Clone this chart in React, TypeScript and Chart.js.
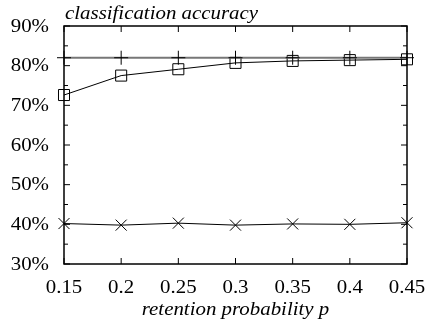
import React, { useEffect, useRef } from "react";
import { Chart, registerables } from "chart.js";

Chart.register(...registerables);

const retentionP = [0.15, 0.2, 0.25, 0.3, 0.35, 0.4, 0.45];
const plusAcc = [82.0, 82.0, 82.0, 82.0, 82.0, 82.0, 82.0];
const squareAcc = [72.6, 77.5, 79.1, 80.7, 81.2, 81.4, 81.6];
const crossAcc = [40.2, 39.8, 40.3, 39.8, 40.1, 40.0, 40.4];

const xTickValues = [0.15, 0.2, 0.25, 0.3, 0.35, 0.4, 0.45];
const xTickLabels = ["0.15", "0.2", "0.25", "0.3", "0.35", "0.4", "0.45"];
const yTickValues = [30, 40, 50, 60, 70, 80, 90];
const yTickLabels = ["30%", "40%", "50%", "60%", "70%", "80%", "90%"];
const yMinorValues = [35, 45, 55, 65, 75, 85];

const chartTitle = "classification accuracy";
const xAxisTitle = "retention probability p";

const FONT = '"Liberation Serif", "Times New Roman", serif';
const SX = 1.16;

function stretchedText(
  ctx: CanvasRenderingContext2D,
  text: string,
  x: number,
  y: number,
  align: "left" | "right" | "center",
  baseline: CanvasTextBaseline,
  font: string
) {
  ctx.save();
  ctx.font = font;
  ctx.textBaseline = baseline;
  ctx.textAlign = "left";
  const w = ctx.measureText(text).width * SX;
  let left = x;
  if (align === "right") left = x - w;
  if (align === "center") left = x - w / 2;
  ctx.translate(left, y);
  ctx.scale(SX, 1);
  ctx.fillStyle = "#000";
  ctx.fillText(text, 0, 0);
  ctx.restore();
}

const framePlugin = {
  id: "gnuplotFrame",
  afterDatasetsDraw(chart: any) {
    const { ctx, chartArea } = chart;
    const { left, right, top, bottom } = chartArea;
    const xs = chart.scales.x;
    const ys = chart.scales.y;
    ctx.save();
    ctx.strokeStyle = "#000";
    ctx.lineWidth = 1.5;
    ctx.strokeRect(left, top, right - left, bottom - top);
    ctx.lineWidth = 1;
    ctx.beginPath();
    const major = 6;
    const minor = 4;
    yTickValues.forEach((v) => {
      const y = ys.getPixelForValue(v);
      ctx.moveTo(left, y);
      ctx.lineTo(left + major, y);
      ctx.moveTo(right, y);
      ctx.lineTo(right - major, y);
    });
    yMinorValues.forEach((v) => {
      const y = ys.getPixelForValue(v);
      ctx.moveTo(left, y);
      ctx.lineTo(left + minor, y);
      ctx.moveTo(right, y);
      ctx.lineTo(right - minor, y);
    });
    xTickValues.forEach((v) => {
      const x = xs.getPixelForValue(v);
      ctx.moveTo(x, bottom);
      ctx.lineTo(x, bottom - major);
      ctx.moveTo(x, top);
      ctx.lineTo(x, top + major);
    });
    ctx.stroke();
    ctx.restore();

    const tickFont = `18px ${FONT}`;
    const italicFont = `italic 18px ${FONT}`;
    yTickValues.forEach((v, i) => {
      stretchedText(ctx, yTickLabels[i], left - 15, ys.getPixelForValue(v) + 1, "right", "middle", tickFont);
    });
    xTickValues.forEach((v, i) => {
      stretchedText(ctx, xTickLabels[i], xs.getPixelForValue(v), 293, "center", "alphabetic", tickFont);
    });
    stretchedText(ctx, chartTitle, left + 1, 19, "left", "alphabetic", italicFont);
    stretchedText(ctx, xAxisTitle, (left + right) / 2, 315, "center", "alphabetic", italicFont);
  },
};

export default function App() {
  const canvasRef = useRef<HTMLCanvasElement | null>(null);

  useEffect(() => {
    document.body.style.margin = "0";
    const canvas = canvasRef.current;
    if (!canvas) return;
    const chart = new Chart(canvas, {
      type: "line",
      data: {
        datasets: [
          {
            label: "plus",
            data: retentionP.map((p, i) => ({ x: p, y: plusAcc[i] })),
            borderColor: "#777",
            borderWidth: 2,
            pointStyle: "cross",
            pointRadius: 7,
            pointBorderColor: "#000",
            pointBorderWidth: 1,
            pointBackgroundColor: "transparent",
            clip: false as any,
          },
          {
            label: "squares",
            data: retentionP.map((p, i) => ({ x: p, y: squareAcc[i] })),
            borderColor: "#000",
            borderWidth: 1,
            pointStyle: "rect",
            pointRadius: 7.8,
            pointBorderColor: "#000",
            pointBorderWidth: 1,
            pointBackgroundColor: "transparent",
            clip: false as any,
          },
          {
            label: "crosses",
            data: retentionP.map((p, i) => ({ x: p, y: crossAcc[i] })),
            borderColor: "#000",
            borderWidth: 1,
            pointStyle: "crossRot",
            pointRadius: 7.8,
            pointBorderColor: "#000",
            pointBorderWidth: 1,
            pointBackgroundColor: "transparent",
            clip: false as any,
          },
        ],
      },
      options: {
        animation: false,
        responsive: false,
        maintainAspectRatio: false,
        layout: { padding: { left: 64, right: 23, top: 26, bottom: 60 } },
        plugins: {
          legend: { display: false },
          tooltip: { enabled: false },
          title: { display: false },
        },
        elements: { line: { tension: 0 } },
        scales: {
          x: { type: "linear", min: 0.15, max: 0.45, display: false },
          y: { type: "linear", min: 30, max: 90, display: false },
        },
      },
      plugins: [framePlugin],
    });
    return () => chart.destroy();
  }, []);

  return (
    <div style={{ position: "fixed", left: 0, top: 0, width: 430, height: 324, background: "#fff" }}>
      <canvas ref={canvasRef} width={430} height={324} style={{ width: 430, height: 324 }} />
    </div>
  );
}
